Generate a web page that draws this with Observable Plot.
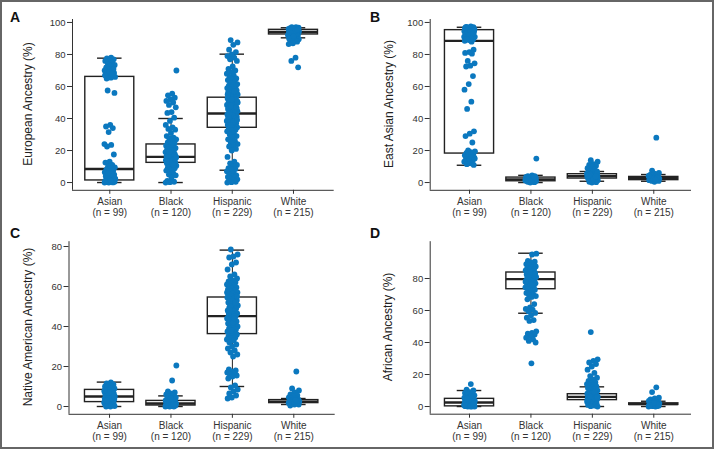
<!DOCTYPE html>
<html>
<head>
<meta charset="utf-8">
<script src="https://cdn.jsdelivr.net/npm/d3@7"></script>
<script src="https://cdn.jsdelivr.net/npm/@observablehq/plot@0.6"></script>
<style>
  body { margin: 0; background: white; }
  #fig { position: relative; width: 714px; height: 449px; background: white; font-family: "Liberation Sans", Arial, sans-serif; overflow: hidden; }
  .panel { position: absolute; }
  .ytitle { position: absolute; font-size: 12px; color: #222; white-space: nowrap; transform: translate(-50%, -50%) rotate(-90deg); line-height: 1; }
  .letter { position: absolute; font-size: 14px; font-weight: bold; color: #111; line-height: 14px; }
  #border { position: absolute; left: 0; top: 0; width: 714px; height: 449px; box-sizing: border-box; border: 2px solid #666; pointer-events: none; }
</style>
</head>
<body>
<div id="fig"></div>
<script>
// ---------- data ----------
const categories = ["Asian", "Black", "Hispanic", "White"];
const counts = [99, 120, 229, 215];

// Panel A: European ancestry (%)
const europeanAsian = [78, 77.5, 77, 76.5, 76, 75, 74, 73.5, 73, 72, 71, 70.5, 70, 69.5, 69, 68.5, 68, 67.5, 67, 66.5, 66, 65.5, 65, 71, 69, 67, 68,
  57.5, 56, 36, 35, 34, 31.5, 24, 23.5, 22.5, 17.5,
  13, 12.5, 11, 10, 9.5, 9, 8, 7.5, 7, 6.5, 6, 5.5, 5, 4.5, 4, 3.5, 3, 2.5, 2, 2, 1.5, 1.5, 1, 1, 0.5, 0.5, 0.3, 0.2, 0.1, 0, 0, 3, 4, 1, 2, 0.8, 5, 6, 2.2, 1.2];
const europeanBlack = [70, 55.5, 54.5, 53, 52, 51, 50, 48.5, 47, 44, 43.5, 40.5, 38.5, 36, 34.5, 33.5, 33, 31, 29, 28, 27.5, 27, 26, 25, 24.5, 24, 23, 22.5, 22, 21.5, 21, 20.5, 20, 19.5, 19, 18.5, 18, 17.5, 17, 16.5, 16, 16, 15.5, 15, 15, 14.5, 14, 14, 13.5, 13, 12.5, 12, 12, 11.5, 11, 10.5, 10, 9.5, 9, 8, 7.5, 6, 5, 4.5, 3, 1, 0.5, 0.2, 0, 18, 17, 15, 20, 13, 11, 19, 16];
const europeanHispanic = [89, 87.5, 86, 83, 81.5, 80, 79, 78, 77, 76, 72.5, 71, 70, 69, 68, 67, 66, 65, 64.5, 64, 63, 62, 61.5, 61, 60.5, 60, 59.5, 59, 58.5, 58, 57.5, 57, 56.5, 56, 55.5, 55, 54.5, 54, 53.5, 53, 52.5, 52, 51.5, 51, 50.5, 50, 49.5, 49, 48.5, 48, 47.5, 47, 46.5, 46, 45.5, 45, 44.5, 44, 43.5, 43, 43, 42.5, 42, 41.5, 41, 40.5, 40, 39.5, 39, 38.5, 38, 37.5, 37, 36.5, 36, 35.5, 35, 34.5, 34, 33.5, 33, 32.5, 32, 31, 30, 29, 28, 27, 26, 25, 24, 23, 22.5, 21, 20, 16, 13, 12, 11, 10, 9, 8.5, 8, 7, 6, 5, 4.5, 4, 3.5, 3, 2.5, 2, 1.5, 1, 0.5, 0.2, 0, 45, 44, 46, 42, 41, 40, 48, 50, 38, 43, 47, 52, 55, 57, 36, 39];
const europeanWhite = [97, 97, 96.8, 96.5, 96.5, 96.2, 96, 96, 95.8, 95.5, 95.5, 95.2, 95, 95, 94.8, 94.5, 94.5, 94.2, 94, 94, 93.8, 93.5, 93.5, 93.2, 93, 93, 92.8, 92.5, 92.5, 92, 92, 91.5, 91, 91, 90.5, 90, 89.5, 89, 88.5, 88, 87, 86.5, 78, 76, 72, 95, 94, 93, 96, 92, 94.5, 93.5, 95.5, 91.5, 90];
// [lower whisker, Q1, median, Q3, upper whisker]
const europeanBox = [[0, 1.3, 8.5, 66, 77.7], [0, 12.3, 16, 23.8, 40], [7.7, 34.2, 43.1, 53, 80.2], [90.4, 92.5, 94, 95.4, 96.7]];

// Panel B: East Asian ancestry (%)
const eastAsianAsian = [97.5, 97.2, 97, 96.8, 96.5, 96.3, 96, 95.8, 95.5, 95.3, 95, 94.8, 94.5, 94.2, 94, 93.5, 93, 92.5, 92, 91.5, 91, 90.5, 90, 89.5, 89, 88.5, 88, 96, 95, 94, 97, 93, 92, 91, 90, 89.5,
  83, 81.5, 81, 80.5, 76, 74.5, 73, 72.5, 66.5, 61.5, 58, 50.5, 46, 32, 30.5, 29, 25,
  20, 19.5, 19, 18.5, 18, 17.5, 17, 16.5, 16, 15.5, 15, 14.5, 14, 13.5, 13, 12, 11.5, 11, 18, 17, 16, 19, 15];
const eastAsianBlack = [15, 4.5, 4, 4, 3.5, 3.5, 3, 3, 3, 2.5, 2.5, 2.5, 2, 2, 2, 2, 1.5, 1.5, 1.5, 1, 1, 1, 0.5, 0.5, 0.2, 0, 3, 2, 1.5, 2.5, 1, 2, 3.5, 0.8, 1.2];
const eastAsianHispanic = [14, 13, 11.5, 11, 10.5, 10, 9, 8, 7.5, 7, 6.5, 6, 6, 5.5, 5.5, 5, 5, 5, 4.5, 4.5, 4.5, 4, 4, 4, 4, 3.5, 3.5, 3.5, 3, 3, 3, 2.5, 2.5, 2, 2, 1.5, 1, 0.5, 0.2, 0, 4, 3, 5, 6, 2, 4.2, 3.8];
const eastAsianWhite = [28, 7.5, 6, 5.5, 5, 5, 4.5, 4, 4, 3.5, 3.5, 3, 3, 3, 2.5, 2.5, 2.5, 2, 2, 2, 1.5, 1.5, 1, 1, 0.5, 3, 2.8, 2.2, 4.2, 1.8];
const eastAsianBox = [[10.8, 18.1, 88.5, 95.2, 97], [0, 0.8, 2, 3.1, 4.5], [0.8, 2.5, 4, 5.2, 6.9], [0.8, 1.5, 2.7, 3.5, 5]];

// Panel C: Native American ancestry (%)
const nativeAsian = [12, 11.5, 11, 10.5, 10, 10, 9.5, 9, 9, 8.5, 8, 8, 7.5, 7, 7, 6.5, 6, 6, 5.5, 5.5, 5, 5, 5, 4.5, 4.5, 4, 4, 3.5, 3.5, 3, 3, 2.5, 2.5, 2, 2, 1.5, 1.5, 1, 1, 0.5, 0.5, 0.2, 0, 0, 6, 7, 8, 4, 3, 5];
const nativeBlack = [20.5, 13, 7.5, 7, 6.5, 6, 5.5, 5, 4.5, 4, 4, 3.5, 3.5, 3, 3, 2.5, 2.5, 2.5, 2, 2, 2, 1.5, 1.5, 1.5, 1, 1, 1, 0.5, 0.5, 0.5, 0.2, 0.2, 0, 0, 0, 3, 2, 1, 4, 2.8, 1.2];
const nativeHispanic = [78.5, 76, 75, 74.5, 72, 71, 68.5, 66, 65, 64, 63, 62.5, 62, 61.5, 61, 60.5, 60, 59.5, 59, 58.5, 58, 57.5, 57, 56.5, 56, 55.5, 55, 54.5, 54, 53.5, 53, 52.5, 52, 51.5, 51, 50.5, 50, 49.5, 49, 48.5, 48, 47.5, 47, 46.5, 46, 45.5, 45, 44.5, 44, 43.5, 43, 42.5, 42, 41.5, 41, 40.5, 40, 39.5, 39, 38.5, 38, 37.5, 37, 36.5, 36, 35.5, 35, 34.5, 34, 33.5, 33, 32, 31, 30, 29, 28, 27, 26, 25, 18.5, 18, 17.5, 17, 16.5, 16, 15.5, 15, 14, 10.5, 9.5, 8.5, 7.5, 6.5, 5.5, 4.5, 4, 45, 50, 55, 42, 47, 52, 38, 57, 44, 48];
const nativeWhite = [17.5, 9, 8, 7, 6, 5.5, 5, 4.5, 4, 4, 3.5, 3.5, 3, 3, 3, 2.5, 2.5, 2.5, 2, 2, 2, 1.5, 1.5, 1, 1, 0.5, 2.8, 2.2, 1.8, 3.2];
const nativeBox = [[0, 2.2, 5, 8.3, 12.2], [0, 0.5, 1.5, 2.8, 5.3], [10, 36.2, 45.2, 54.5, 78.2], [1, 1.7, 2.4, 3.2, 4]];

// Panel D: African ancestry (%)
const africanAsian = [14, 10.5, 10, 9, 8.5, 8, 7.5, 7, 6.5, 6, 6, 5.5, 5.5, 5, 5, 4.5, 4.5, 4, 4, 3.5, 3.5, 3, 3, 3, 2.5, 2.5, 2, 2, 2, 1.5, 1.5, 1, 1, 1, 0.5, 0.5, 0.5, 0.2, 0.2, 0, 0, 0, 0, 3, 2, 4, 1, 6.5, 5];
const africanBlack = [95.5, 95, 91, 90.5, 90, 89, 88.5, 88, 87.5, 87, 86.5, 86, 85.5, 85, 84.5, 84, 83.5, 83, 82.5, 82, 81.5, 81, 80.5, 80, 79.5, 79, 78.5, 78, 77.5, 77, 76.5, 76, 75.5, 75, 74.5, 74, 73.5, 73, 72, 71, 70, 69.5, 69, 68.5, 67, 64, 62, 61, 60.5, 59.5, 58.5, 57, 55.5, 54, 53.5, 47, 46, 45.5, 45, 44, 43, 42, 41, 40, 27, 80, 82, 84, 78, 76, 81, 83];
const africanHispanic = [46.5, 29.5, 28.5, 27.5, 26.5, 25, 23, 21, 19, 18, 17, 16, 15, 14.5, 14, 13.5, 13, 12.5, 12, 11.5, 11, 10.5, 10, 9.5, 9, 8.5, 8, 8, 7.5, 7.5, 7, 7, 6.5, 6.5, 6, 6, 6, 5.5, 5.5, 5, 5, 5, 4.5, 4.5, 4, 4, 3.5, 3.5, 3, 3, 2.5, 2, 1.5, 1, 0.5, 0.2, 0, 6, 7, 5, 8, 4, 9, 6.2, 5.8];
const africanWhite = [12, 9, 5.5, 5, 4.5, 4, 3.5, 3.5, 3, 3, 2.5, 2.5, 2.5, 2, 2, 2, 1.5, 1.5, 1.5, 1, 1, 1, 1, 0.5, 0.5, 0.5, 0.2, 0.2, 0, 0, 1.8, 1.2, 2.2, 0.8];
const africanBox = [[0, 0.1, 2.5, 4.8, 10], [58.3, 73.3, 79.6, 83.75, 95.8], [0, 4, 6, 7.7, 12.3], [0, 1, 1.5, 2, 3.3]];

const yTicks100 = [0, 20, 40, 60, 80, 100];
const yTicks80 = [0, 20, 40, 60, 80];

// ---------- drawing ----------
const BLUE = "#0b78bf";
const INK = "#222";

function jitter(i, ci) {
  return ((((i + 1) * 0.6180339887 + ci * 0.37) % 1) - 0.5) * 0.18;
}

function panel(cfg) {
  const dots = [];
  cfg.points.forEach((vals, ci) => vals.forEach((v, i) => dots.push({x: ci + 1 + jitter(i, ci), y: v})));
  const boxes = cfg.stats.map((s, ci) => ({c: ci + 1, lo: s[0], q1: s[1], med: s[2], q3: s[3], hi: s[4]}));
  return Plot.plot({
    width: cfg.width,
    height: cfg.height,
    marginLeft: cfg.marginLeft,
    marginRight: cfg.marginRight,
    marginTop: cfg.marginTop,
    marginBottom: cfg.marginBottom,
    x: {type: "linear", domain: cfg.xDomain},
    y: {domain: cfg.yDomain},
    style: {fontFamily: "'Liberation Sans', Arial, sans-serif", fontSize: "10px", color: "#333", background: "white", overflow: "visible"},
    marks: [
      Plot.ruleX(boxes, {x: "c", y1: "q3", y2: "hi", stroke: INK, strokeWidth: 1}),
      Plot.ruleX(boxes, {x: "c", y1: "lo", y2: "q1", stroke: INK, strokeWidth: 1}),
      Plot.rect(boxes, {x1: d => d.c - 0.4, x2: d => d.c + 0.4, y1: "q1", y2: "q3", fill: "white", stroke: INK, strokeWidth: 1.4}),
      Plot.ruleY(boxes, {y: "med", x1: d => d.c - 0.4, x2: d => d.c + 0.4, stroke: INK, strokeWidth: 2.4}),
      Plot.ruleY(boxes, {y: "hi", x1: d => d.c - 0.2, x2: d => d.c + 0.2, stroke: INK, strokeWidth: 1.4}),
      Plot.ruleY(boxes, {y: "lo", x1: d => d.c - 0.2, x2: d => d.c + 0.2, stroke: INK, strokeWidth: 1.4}),
      Plot.dot(dots, {x: "x", y: "y", r: 2.9, fill: BLUE, stroke: "none"}),
      Plot.ruleX([cfg.xDomain[0]], {stroke: "#333", strokeWidth: 1}),
      Plot.ruleY([cfg.yDomain[0]], {stroke: "#333", strokeWidth: 1}),
      Plot.axisY({ticks: cfg.yTicks, tickSize: 5, tickPadding: 2, label: null, fontSize: 9.5, stroke: "#333"}),
      Plot.axisX({ticks: [1, 2, 3, 4], tickFormat: i => `${categories[i - 1]}\n(n = ${counts[i - 1]})`, tickSize: 4, tickPadding: 3, label: null, fontSize: 10, lineHeight: 1.1, stroke: "#333"})
    ]
  });
}

const panels = [
  {left: 0, top: 0, width: 357, height: 225, marginLeft: 72, marginRight: 23.3, marginTop: 19, marginBottom: 35.2,
   xDomain: [0.391, 4.665], yDomain: [-4.85, 101.85], yTicks: yTicks100,
   points: [europeanAsian, europeanBlack, europeanHispanic, europeanWhite], stats: europeanBox,
   title: "European Ancestry (%)", tx: 28, ty: 104, letter: "A", lx: 10, ly: 10},
  {left: 357, top: 0, width: 357, height: 225, marginLeft: 72.7, marginRight: 23, marginTop: 19, marginBottom: 35.2,
   xDomain: [0.36, 4.614], yDomain: [-4.85, 101.85], yTicks: yTicks100,
   points: [eastAsianAsian, eastAsianBlack, eastAsianHispanic, eastAsianWhite], stats: eastAsianBox,
   title: "East Asian Ancestry (%)", tx: 389, ty: 104, letter: "B", lx: 370, ly: 10},
  {left: 0, top: 225, width: 357, height: 224, marginLeft: 68.5, marginRight: 22.3, marginTop: 16.2, marginBottom: 35.2,
   xDomain: [0.34, 4.674], yDomain: [-3.9, 82.4], yTicks: yTicks80,
   points: [nativeAsian, nativeBlack, nativeHispanic, nativeWhite], stats: nativeBox,
   title: "Native American Ancestry (%)", tx: 27.5, ty: 327, letter: "C", lx: 10, ly: 226},
  {left: 357, top: 225, width: 357, height: 224, marginLeft: 72.7, marginRight: 23, marginTop: 16.2, marginBottom: 35.3,
   xDomain: [0.36, 4.614], yDomain: [-4.8, 103], yTicks: yTicks80,
   points: [africanAsian, africanBlack, africanHispanic, africanWhite], stats: africanBox,
   title: "African Ancestry (%)", tx: 388, ty: 327, letter: "D", lx: 370, ly: 226}
];

const fig = document.getElementById("fig");
for (const p of panels) {
  const wrap = document.createElement("div");
  wrap.className = "panel";
  wrap.style.left = p.left + "px";
  wrap.style.top = p.top + "px";
  wrap.appendChild(panel(p));
  fig.appendChild(wrap);

  const t = document.createElement("div");
  t.className = "ytitle";
  t.style.left = p.tx + "px";
  t.style.top = p.ty + "px";
  t.textContent = p.title;
  fig.appendChild(t);

  const l = document.createElement("div");
  l.className = "letter";
  l.style.left = p.lx + "px";
  l.style.top = p.ly + "px";
  l.textContent = p.letter;
  fig.appendChild(l);
}
const b = document.createElement("div");
b.id = "border";
fig.appendChild(b);
</script>
</body>
</html>
